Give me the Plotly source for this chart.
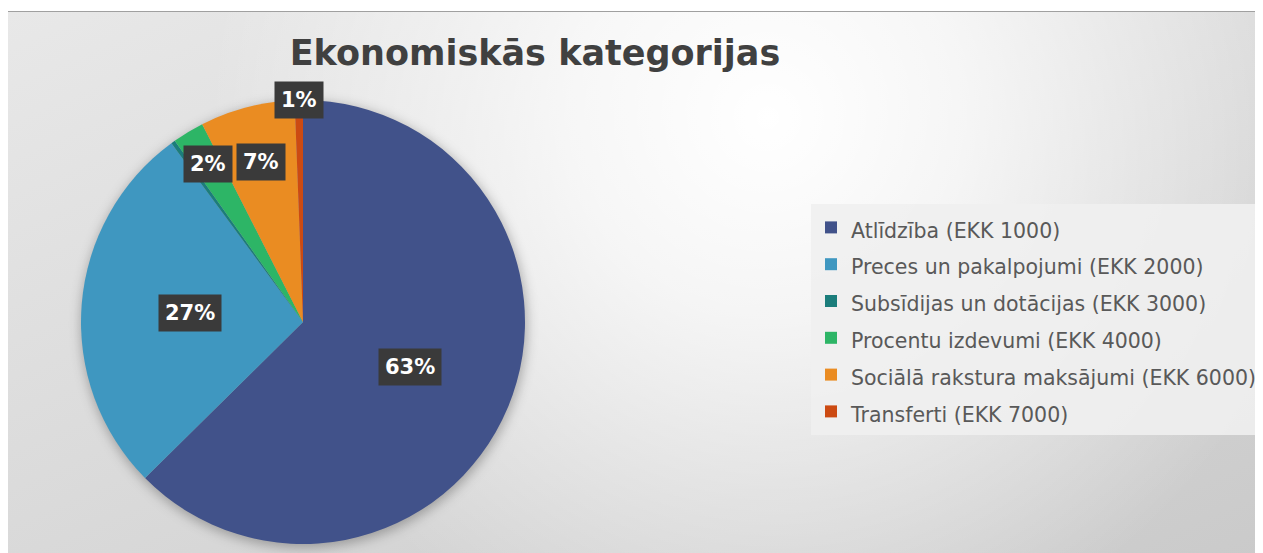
import base64, math
import plotly.graph_objects as go

# ---- data ----
categories = [
    "Atlīdzība (EKK 1000)",
    "Preces un pakalpojumi (EKK 2000)",
    "Subsīdijas un dotācijas (EKK 3000)",
    "Procentu izdevumi (EKK 4000)",
    "Sociālā rakstura maksājumi (EKK 6000)",
    "Transferti (EKK 7000)",
]
shares = [62.6, 27.3, 0.3, 2.3, 6.9, 0.6]
colors = ["#41528a", "#3f97c0", "#1b7d7b", "#2db566", "#ea8c22", "#cc4a12"]

# ---- layout geometry (figure pixels) ----
W, H = 1263, 553
cx_px, cy_px, R_px = 295, 314, 222
dom_x = [(cx_px - R_px) / W, (cx_px + R_px) / W]
dom_y = [1 - (cy_px + R_px) / H, 1 - (cy_px - R_px) / H]
label_radius = [0.52, 0.51, None, 0.83, 0.745, 1.0]  # fraction of pie radius

svg = f"""<svg xmlns='http://www.w3.org/2000/svg' width='{W}' height='{H}'>
<defs>
<linearGradient id='base' x1='0' y1='0' x2='1' y2='1'>
<stop offset='0' stop-color='#e8e8e8'/><stop offset='1' stop-color='#cacaca'/></linearGradient>
<radialGradient id='hl' cx='760' cy='110' r='560' gradientUnits='userSpaceOnUse'>
<stop offset='0' stop-color='#ffffff' stop-opacity='1'/>
<stop offset='0.35' stop-color='#ffffff' stop-opacity='0.75'/>
<stop offset='1' stop-color='#ffffff' stop-opacity='0'/></radialGradient>
<filter id='b' x='-20%' y='-20%' width='140%' height='140%'><feGaussianBlur stdDeviation='6'/></filter>
</defs>
<rect width='{W}' height='{H}' fill='#ffffff'/>
<rect x='0' y='4' width='{W}' height='{H-4}' fill='url(#base)'/>
<rect x='0' y='4' width='{W}' height='{H-4}' fill='url(#hl)'/>
<line x1='0' y1='3.5' x2='{W}' y2='3.5' stroke='#a0a0a0' stroke-width='1'/>
<circle cx='{cx_px+1}' cy='{cy_px+3}' r='{R_px+1}' fill='rgba(0,0,0,0.28)' filter='url(#b)'/>
</svg>"""
bg_uri = "data:image/svg+xml;base64," + base64.b64encode(svg.encode()).decode()

legend_labels = [f"<span style='font-size:20.5px'>{c}</span>" for c in categories]

fig = go.Figure(go.Pie(
    labels=legend_labels,
    values=shares,
    marker=dict(colors=colors, line=dict(width=0)),
    sort=False,
    direction="clockwise",
    rotation=0,
    textinfo="none",
    domain=dict(x=dom_x, y=dom_y),
    hovertemplate="%{label}: %{percent}<extra></extra>",
))

# percentage labels in dark boxes, placed at each slice's mid-angle
total = sum(shares)
cum = 0.0
annotations = []
for v, rf in zip(shares, label_radius):
    mid = (cum + v / 2) / total * 2 * math.pi
    cum += v
    if rf is None:
        continue
    px = cx_px + rf * R_px * math.sin(mid)
    py = cy_px - rf * R_px * math.cos(mid)
    annotations.append(dict(
        x=px / W, y=1 - py / H, xref="paper", yref="paper",
        text=f"{round(v / total * 100)}%", showarrow=False,
        font=dict(family="DejaVu Sans", size=21, color="#ffffff", weight="bold"),
        bgcolor="#3a3a3a", borderpad=6, xanchor="center", yanchor="middle",
    ))

fig.update_layout(
    width=W, height=H,
    margin=dict(l=0, r=0, t=0, b=0),
    paper_bgcolor="#ffffff",
    images=[dict(source=bg_uri, xref="paper", yref="paper", x=0, y=1,
                 sizex=1, sizey=1, sizing="stretch", layer="below",
                 xanchor="left", yanchor="top")],
    title=dict(text="<b>Ekonomiskās kategorijas</b>", x=527 / W, xanchor="center",
               y=1 - 45 / H, yanchor="middle",
               font=dict(family="DejaVu Sans", size=35, color="#404040")),
    legend=dict(x=803 / W, xanchor="left", y=1 - 196 / H, yanchor="top",
                bgcolor="rgba(240,240,240,0.9)",
                font=dict(family="DejaVu Sans", size=26, color="#595959"),
                itemclick=False),
    annotations=annotations,
)

fig.write_html("out.html")
